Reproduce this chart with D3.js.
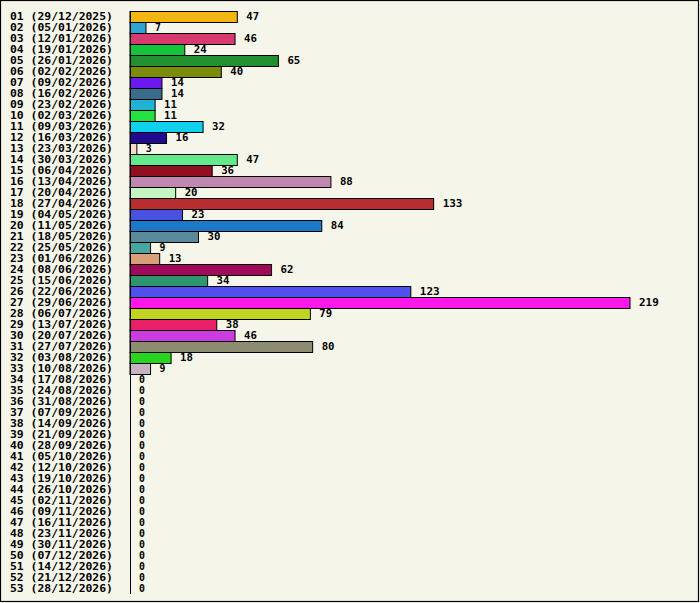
<!DOCTYPE html>
<html lang="en">
<head>
    <meta charset="UTF-8"/>
    <title>Weekly counts</title>
    <script src="https://d3js.org/d3.v7.min.js"></script>
    <style>
        body { margin: 0; background: #ffffff; }
        svg text { font-family: "DejaVu Sans Mono", "Liberation Mono", monospace; font-weight: bold; font-size: 10px; fill: #000; }
    </style>
</head>
<body>
    <script>
        var w = 700;
        var h = 603;
        var charW = 6.93; // advance of one glyph in the reference's fixed-width font

        // week numbers and start dates
        var weeks = ["01","02","03","04","05","06","07","08","09","10","11","12","13","14","15","16","17","18",
            "19","20","21","22","23","24","25","26","27","28","29","30","31","32","33","34","35","36",
            "37","38","39","40","41","42","43","44","45","46","47","48","49","50","51","52","53"];
        var dates = ["29/12/2025","05/01/2026","12/01/2026","19/01/2026","26/01/2026","02/02/2026","09/02/2026",
            "16/02/2026","23/02/2026","02/03/2026","09/03/2026","16/03/2026","23/03/2026","30/03/2026",
            "06/04/2026","13/04/2026","20/04/2026","27/04/2026","04/05/2026","11/05/2026","18/05/2026",
            "25/05/2026","01/06/2026","08/06/2026","15/06/2026","22/06/2026","29/06/2026","06/07/2026",
            "13/07/2026","20/07/2026","27/07/2026","03/08/2026","10/08/2026","17/08/2026","24/08/2026",
            "31/08/2026","07/09/2026","14/09/2026","21/09/2026","28/09/2026","05/10/2026","12/10/2026",
            "19/10/2026","26/10/2026","02/11/2026","09/11/2026","16/11/2026","23/11/2026","30/11/2026",
            "07/12/2026","14/12/2026","21/12/2026","28/12/2026"];
        var values = [47,7,46,24,65,40,14,14,11,11,32,16,3,47,36,88,20,133,23,84,30,9,13,62,34,123,219,79,38,46,80,18,9,
            0,0,0,0,0,0,0,0,0,0,0,0,0,0,0,0,0,0,0,0];
        var colors = ["#f2b511","#2fa3d5","#d63a6e","#14c43a","#22902e","#7a8c0a","#6c18f0","#3a6a8c","#22b2d4",
            "#24e040","#10d0ee","#200a90","#f6dccc","#64e88a","#901020","#c088b0","#c4f4c0","#b82e30",
            "#4a50e0","#1e78c8","#588a9a","#44a8a0","#d8a078","#a0085a","#309670","#5050f0","#fc18e8",
            "#c0d420","#e8206a","#cc3ce0","#8e8c70","#28d420","#c8b4c0"];

        var rows = weeks.map(function(wk, i) {
            return { label: wk + " (" + dates[i] + ")", value: values[i], color: colors[i] || "#cccccc" };
        });

        var xScale = d3.scaleLinear()
            .domain([0, d3.max(values)])
            .range([130, 630]);

        var yScale = d3.scaleBand()
            .domain(d3.range(rows.length))
            .range([11, 11 + rows.length * 11])
            .padding(0);

        var svg = d3.select("body")
            .append("svg")
            .attr("width", w)
            .attr("height", h);

        // background + frame
        svg.append("rect")
            .attr("x", 0.5)
            .attr("y", 0.5)
            .attr("width", w - 2)
            .attr("height", h - 2)
            .attr("fill", "#f5f5e9")
            .attr("stroke", "#000")
            .attr("stroke-width", 1.2);

        // bars (zero values get no bar)
        svg.selectAll("rect.bar")
            .data(rows.filter(function(d) { return d.value > 0; }))
            .enter()
            .append("rect")
            .attr("class", "bar")
            .attr("x", xScale(0))
            .attr("y", function(d) { return yScale(rows.indexOf(d)) + 0.5; })
            .attr("width", function(d) { return xScale(d.value) - xScale(0); })
            .attr("height", yScale.bandwidth())
            .attr("fill", function(d) { return d.color; })
            .attr("stroke", "#000")
            .attr("stroke-width", 1);

        // axis line
        svg.append("line")
            .attr("x1", xScale(0) + 0.5)
            .attr("x2", xScale(0) + 0.5)
            .attr("y1", yScale.range()[0])
            .attr("y2", yScale.range()[1])
            .attr("stroke", "#000")
            .attr("stroke-width", 1);

        // category labels
        svg.selectAll("text.cat")
            .data(rows)
            .enter()
            .append("text")
            .attr("class", "cat")
            .attr("x", 10)
            .attr("y", function(d, i) { return yScale(i) + yScale.bandwidth() / 2; })
            .attr("dy", "0.38em")
            .attr("textLength", function(d) { return d.label.length * charW - 1; })
            .attr("lengthAdjust", "spacingAndGlyphs")
            .text(function(d) { return d.label; });

        // value labels
        svg.selectAll("text.val")
            .data(rows)
            .enter()
            .append("text")
            .attr("class", "val")
            .attr("x", function(d) { return xScale(d.value) + 9; })
            .attr("y", function(d, i) { return yScale(i) + yScale.bandwidth() / 2; })
            .attr("dy", "0.38em")
            .attr("textLength", function(d) { return String(d.value).length * charW - 1; })
            .attr("lengthAdjust", "spacingAndGlyphs")
            .text(function(d) { return d.value; });
    </script>
</body>
</html>
